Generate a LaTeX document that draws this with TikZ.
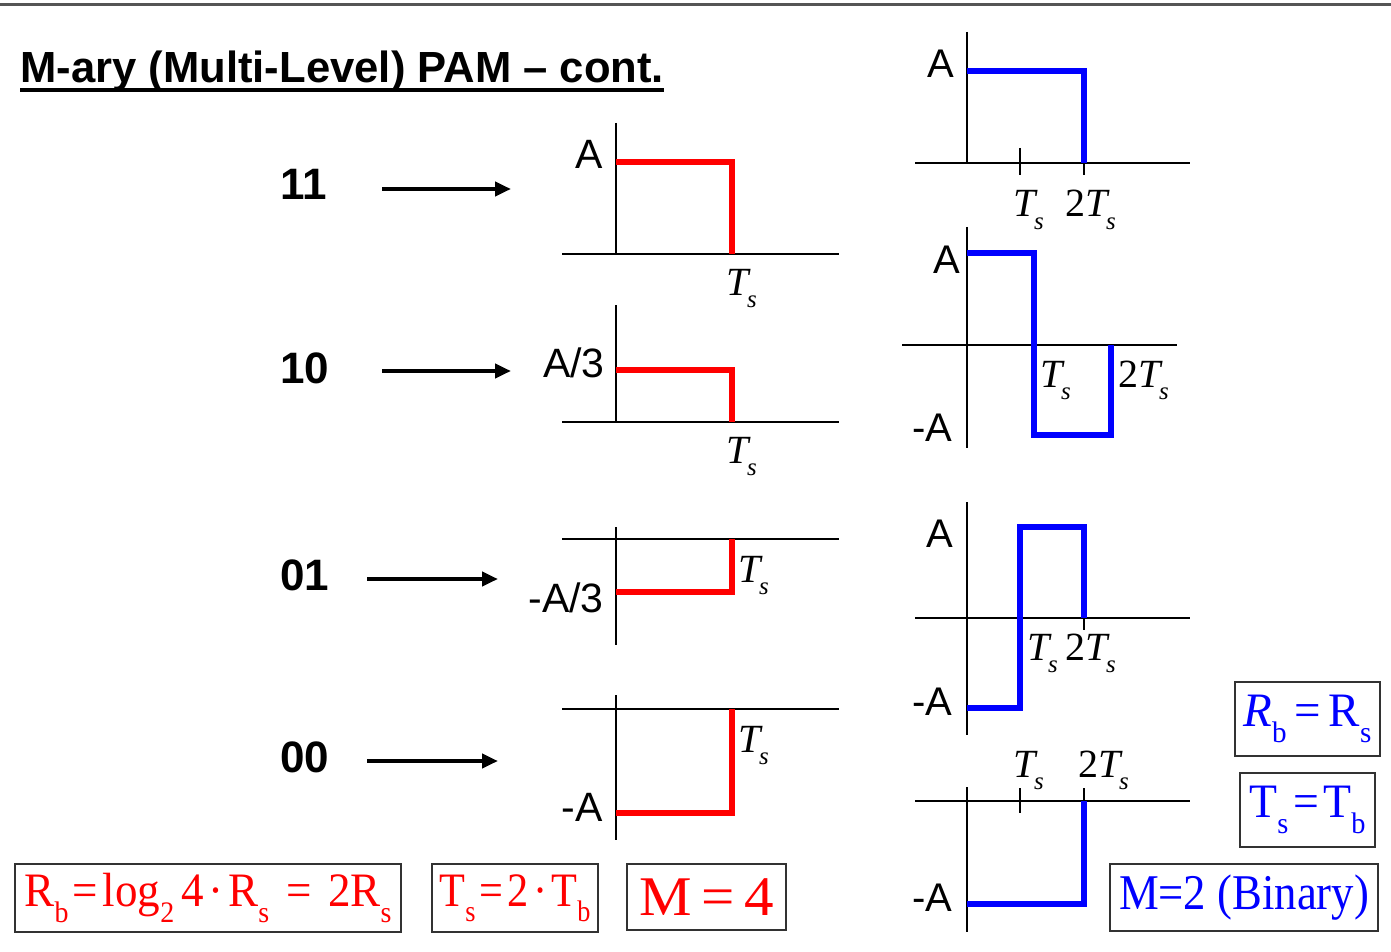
\documentclass[tikz,border=0pt]{standalone}
\usepackage{fontspec}
\usepackage{graphicx}
\setmainfont{Liberation Serif}
\newfontfamily\arial{Liberation Sans}
\usetikzlibrary{arrows.meta}

\definecolor{pamred}{RGB}{255,0,0}
\definecolor{pamblue}{RGB}{0,0,255}
\definecolor{rulegray}{RGB}{85,85,85}
\definecolor{boxgray}{RGB}{50,50,50}

% lowered, reduced subscript as in the equation editor
\newcommand\lowsub[1]{\raisebox{-0.32em}{\scalebox{0.62}{#1}}}
\newcommand\Tsym{\textit{T}\kern-0.1em\lowsub{\textit{s}}}
% relation sign with a little room on both sides
\newcommand\op[1]{\kern0.1em#1\kern0.1em}
% set a formula to a given width, keeping its height
\newcommand\fitw[2]{\resizebox{#1}{\height}{#2}}

\begin{document}
\begin{tikzpicture}[x=0.5pt,y=-0.5pt,
  axis/.style={line width=0.75pt,black},
  redsig/.style={line width=3pt,pamred,line join=miter},
  bluesig/.style={line width=2.8pt,pamblue,line join=miter},
  codelbl/.style={font=\arial\bfseries\fontsize{22}{26}\selectfont,anchor=base west,inner sep=0},
  redlvl/.style={font=\arial\fontsize{20.5}{24}\selectfont,anchor=base east,inner sep=0},
  bluelvl/.style={font=\arial\fontsize{20}{24}\selectfont,anchor=base east,inner sep=0},
  tlbl/.style={font=\fontsize{20}{24}\selectfont,anchor=base west,inner sep=0},
  maparrow/.style={line width=2pt,-{Triangle[length=8pt,width=7pt]}},
  eqbox/.style={draw=boxgray,line width=0.9pt,inner sep=0,align=center}
]
\useasboundingbox (0,0) rectangle (1391,952);

% top rule and heading
\draw[rulegray,line width=1.5pt] (0,5) -- (1391,5);
\node[font=\arial\bfseries\fontsize{21.8}{26}\selectfont,anchor=base west,inner sep=0]
  (title) at (20,83) {M-ary (Multi-Level) PAM – cont.};
\draw[line width=2pt] ([yshift=-3.5pt]title.base west) -- ([yshift=-3.5pt]title.base east);

% bit pairs and mapping arrows
\node[codelbl] (c11) at (280,200) {11};
\node[codelbl] (c10) at (280,383) {10};
\node[codelbl] (c01) at (280,590) {01};
\node[codelbl] (c00) at (280,772) {00};
\coordinate (a11s) at (382,189); \coordinate (a11e) at (511,189);
\coordinate (a10s) at (382,371); \coordinate (a10e) at (511,371);
\coordinate (a01s) at (367,579); \coordinate (a01e) at (498,579);
\coordinate (a00s) at (367,761); \coordinate (a00e) at (498,761);
\draw[maparrow] (a11s) -- (a11e);
\draw[maparrow] (a10s) -- (a10e);
\draw[maparrow] (a01s) -- (a01e);
\draw[maparrow] (a00s) -- (a00e);

% ---- four-level pulses (M = 4) ----
% 11 -> A
\draw[axis] (616,123) -- (616,254);
\draw[axis] (562,254) -- (839,254);
\draw[redsig] (616,162) -- (732,162) -- (732,254);
\node[redlvl] (r1a) at (603,169) {A};
\node[tlbl] (r1t) at (726,295) {\Tsym};
% 10 -> A/3
\draw[axis] (616,305) -- (616,422);
\draw[axis] (562,422) -- (839,422);
\draw[redsig] (616,370) -- (732,370) -- (732,422);
\node[redlvl] (r2a) at (605,377) {A/3};
\node[tlbl] (r2t) at (726,463) {\Tsym};
% 01 -> -A/3
\draw[axis] (616,527) -- (616,645);
\draw[axis] (562,539) -- (839,539);
\draw[redsig] (732,539) -- (732,592) -- (616,592);
\node[redlvl] (r3a) at (604,612) {-A/3};
\node[tlbl] (r3t) at (738,582) {\Tsym};
% 00 -> -A
\draw[axis] (616,695) -- (616,840);
\draw[axis] (562,709) -- (839,709);
\draw[redsig] (732,709) -- (732,813) -- (616,813);
\node[redlvl] (r4a) at (603,821) {-A};
\node[tlbl] (r4t) at (738,752) {\Tsym};

% ---- binary pulse pairs (M = 2) ----
% pair 1
\draw[axis] (967,32) -- (967,163);
\draw[axis] (915,163) -- (1190,163);
\draw[axis] (1020,148) -- (1020,175);
\draw[axis] (1084,150) -- (1084,175);
\draw[bluesig] (967,71) -- (1084,71) -- (1084,163);
\node[bluelvl] (b1a) at (955,78) {A};
\node[tlbl] (b1t) at (1013,217) {\Tsym};
\node[tlbl] (b1tt) at (1065,217) {2\Tsym};
% pair 2
\draw[axis] (967,227) -- (967,448);
\draw[axis] (902,345) -- (1177,345);
\draw[bluesig] (967,253) -- (1034,253) -- (1034,435) -- (1111,435) -- (1111,345);
\node[bluelvl] (b2a) at (961,273) {A};
\node[bluelvl] (b2m) at (953,441) {-A};
\node[tlbl] (b2t) at (1040,387) {\Tsym};
\node[tlbl] (b2tt) at (1118,387) {2\Tsym};
% pair 3
\draw[axis] (967,502) -- (967,735);
\draw[axis] (915,618) -- (1190,618);
\draw[axis] (1084,605) -- (1084,630);
\draw[bluesig] (967,708) -- (1020,708) -- (1020,527) -- (1084,527) -- (1084,618);
\node[bluelvl] (b3a) at (954,547) {A};
\node[bluelvl] (b3m) at (953,715) {-A};
\node[tlbl] (b3t) at (1027,660) {\Tsym};
\node[tlbl] (b3tt) at (1065,660) {2\Tsym};
% pair 4
\draw[axis] (967,787) -- (967,932);
\draw[axis] (915,801) -- (1190,801);
\draw[axis] (1020,788) -- (1020,813);
\draw[axis] (1084,788) -- (1084,801);
\draw[bluesig] (967,904) -- (1084,904) -- (1084,801);
\node[bluelvl] (b4m) at (953,911) {-A};
\node[tlbl] (b4t) at (1013,777) {\Tsym};
\node[tlbl] (b4tt) at (1078,777) {2\Tsym};

% ---- relations ----
\node[eqbox,text=pamred,font=\fontsize{24}{28}\selectfont,minimum width=193pt,minimum height=34pt]
  (eqrb) at (208,898) {\fitw{183.5pt}{R\lowsub{b}\op{=}log\lowsub{2}\,4\op{·}R\lowsub{s}\ \kern0.12em=\ \kern0.12em2R\lowsub{s}}};
\node[eqbox,text=pamred,font=\fontsize{24}{28}\selectfont,minimum width=83pt,minimum height=34pt]
  (eqts) at (515,898) {\fitw{75.5pt}{T\lowsub{s}\op{=}2\op{·}T\lowsub{b}}};
\node[eqbox,text=pamred,font=\fontsize{28}{32}\selectfont,minimum width=79.5pt,minimum height=33pt]
  (eqm) at (706.5,897) {\fitw{67.5pt}{M\,=\,4}};
\node[eqbox,text=pamblue,font=\fontsize{24}{28}\selectfont,minimum width=72.5pt,minimum height=37pt]
  (brb) at (1307.5,719) {\fitw{64pt}{\textit{R}\lowsub{b}\,=\,R\lowsub{s}}};
\node[eqbox,text=pamblue,font=\fontsize{24}{28}\selectfont,minimum width=67.5pt,minimum height=37pt]
  (bts) at (1307.5,810) {\fitw{58pt}{T\lowsub{s}\op{=}T\lowsub{b}}};
\node[eqbox,text=pamblue,font=\fontsize{25}{29}\selectfont,minimum width=134pt,minimum height=33.5pt]
  (bm) at (1244,897.5) {\fitw{125pt}{M=2 (Binary)}};
\end{tikzpicture}
\end{document}
